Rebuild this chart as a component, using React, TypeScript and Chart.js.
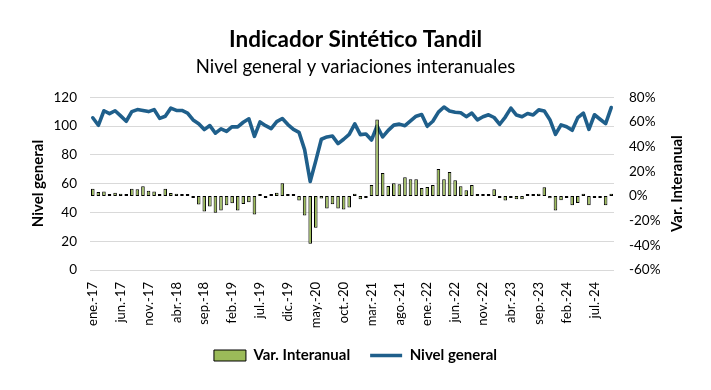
import React, { useEffect, useRef } from 'react';
import { Chart, registerables } from 'chart.js';

Chart.register(...registerables);

// ---- Data ----
const MONTHS = ['ene.', 'feb.', 'mar.', 'abr.', 'may.', 'jun.', 'jul.', 'ago.', 'sep.', 'oct.', 'nov.', 'dic.'];
const YEARS = ['17', '18', '19', '20', '21', '22', '23', '24'];
const LAST_MONTH_2024 = 9; // octubre
const categories: string[] = [];
YEARS.forEach((y, yi) => {
  MONTHS.forEach((m, mi) => {
    if (yi === YEARS.length - 1 && mi > LAST_MONTH_2024) return;
    categories.push(`${m}-${y}`);
  });
});

const nivelGeneral: number[] = [
  105.7, 100.5, 110.6, 108.6, 110.6, 107.0, 103.3, 110.0, 111.4, 110.8, 110.0, 111.4,
  105.3, 106.8, 112.4, 110.8, 110.8, 109.0, 104.2, 101.6, 97.5, 100.3, 95.0, 98.0,
  96.2, 99.5, 99.4, 102.6, 105.0, 92.8, 102.8, 100.2, 98.2, 103.0, 105.2, 101.0,
  97.6, 95.6, 83.6, 61.5, 75.8, 90.8, 92.4, 93.0, 87.8, 90.8, 94.2, 101.5,
  94.0, 94.4, 90.3, 100.0, 92.4, 97.0, 100.6, 101.3, 100.2, 103.5, 106.8, 108.0,
  99.8, 103.3, 109.6, 113.2, 110.4, 109.6, 109.2, 106.5, 109.0, 104.3, 106.4, 107.8,
  105.9, 101.2, 106.2, 112.4, 107.6, 106.4, 108.7, 107.7, 111.2, 110.4, 104.4, 94.2,
  100.8, 99.5, 97.0, 105.8, 109.0, 97.7, 107.8, 104.7, 101.7, 112.8,
];

const varInteranual: number[] = [
  5.9, 3.2, 3.5, 0.3, 2.6, 1.8, 0.3, 5.9, 5.4, 7.8, 4.3, 3.5,
  0.3, 5.9, 2.4, 1.8, 0.2, 0.2, -0.3, -6.9, -12.6, -8.5, -13.6, -11.7,
  -7.5, -6.0, -11.7, -6.6, -5.2, -15.0, 0.8, -0.4, 0.6, 2.6, 10.3, 1.5,
  0.7, -3.6, -15.8, -38.7, -25.7, -2.0, -10.2, -6.8, -10.2, -11.0, -9.4, 1.8,
  -2.6, -1.0, 8.8, 61.9, 18.5, 8.0, 10.3, 9.5, 15.2, 13.6, 13.6, 6.4,
  7.2, 8.8, 21.8, 13.6, 19.3, 12.8, 7.9, 4.6, 8.8, 0.2, 0.2, 0.2,
  5.4, -0.2, -3.6, -1.0, -2.7, -2.7, 0.2, 0.2, 1.8, 7.0, -1.8, -11.8,
  -3.5, -1.2, -7.5, -5.8, 1.8, -7.5, -1.0, -0.8, -7.5, 1.8,
];

const leftTicks = [0, 20, 40, 60, 80, 100, 120];
const rightTicks = [-60, -40, -20, 0, 20, 40, 60, 80];
const TICK_EVERY = 5;

const TITLE = 'Indicador Sintético Tandil';
const SUBTITLE = 'Nivel general y variaciones interanuales';
const LEFT_AXIS_TITLE = 'Nivel general';
const RIGHT_AXIS_TITLE = 'Var. Interanual';

const FONT = 'Lato, "Open Sans", sans-serif';

const axisTitlesPlugin = {
  id: 'axisTitles',
  afterDraw(chart: any) {
    const { ctx, chartArea } = chart;
    const cy = (chartArea.top + chartArea.bottom) / 2;
    ctx.save();
    ctx.font = `bold 15px ${FONT}`;
    ctx.fillStyle = '#000';
    ctx.textAlign = 'center';
    ctx.textBaseline = 'middle';
    const items: [number, string][] = [
      [38, LEFT_AXIS_TITLE],
      [677, RIGHT_AXIS_TITLE],
    ];
    items.forEach(([x, t]) => {
      ctx.save();
      ctx.translate(x, cy);
      ctx.rotate(-Math.PI / 2);
      ctx.fillText(t, 0, 0);
      ctx.restore();
    });
    ctx.restore();
  },
};

export default function App() {
  const canvasRef = useRef<HTMLCanvasElement | null>(null);

  useEffect(() => {
    if (!canvasRef.current) return;
    const chart = new Chart(canvasRef.current, {
      type: 'bar',
      data: {
        labels: categories,
        datasets: [
          {
            type: 'bar',
            label: 'Var. Interanual',
            data: varInteranual,
            yAxisID: 'y1',
            backgroundColor: '#9bbb59',
            borderColor: '#000000',
            borderWidth: 1,
            borderSkipped: false,
            minBarLength: 2,
            barPercentage: 0.64,
            categoryPercentage: 1,
            order: 0,
            pointStyle: 'rect',
          } as any,
          {
            type: 'line',
            label: 'Nivel general',
            data: nivelGeneral,
            yAxisID: 'y',
            borderColor: '#1f5f8b',
            backgroundColor: '#1f5f8b',
            borderWidth: 3.6,
            pointRadius: 0,
            tension: 0,
            borderJoinStyle: 'round',
            borderCapStyle: 'round',
            order: 1,
            pointStyle: 'line',
          } as any,
        ],
      },
      options: {
        responsive: true,
        maintainAspectRatio: false,
        animation: false,
        layout: { padding: { left: 0, right: 0, top: 0, bottom: 17 } },
        plugins: {
          tooltip: { enabled: false },
          title: {
            display: true,
            text: TITLE,
            color: '#000',
            font: { family: FONT, size: 22.5, weight: 'bold' },
            padding: { top: 26, bottom: 0 },
          },
          subtitle: {
            display: true,
            text: SUBTITLE,
            color: '#000',
            font: { family: FONT, size: 18.5, weight: 'normal' },
            padding: { top: 3, bottom: 19 },
          },
          legend: {
            position: 'bottom',
            labels: {
              usePointStyle: true,
              pointStyleWidth: 32,
              boxHeight: 11,
              color: '#000',
              font: { family: FONT, size: 15, weight: 'bold' },
              padding: 20,
            },
          },
        },
        scales: {
          x: {
            grid: { display: false },
            border: { display: false },
            ticks: {
              autoSkip: false,
              minRotation: 90,
              maxRotation: 90,
              color: '#000',
              padding: 4,
              font: { family: FONT, size: 13 },
              callback: (_v: any, i: number) => (i % TICK_EVERY === 0 ? categories[i] : ''),
            },
            afterFit: (s: any) => {
              s.height = 58;
            },
          },
          y: {
            position: 'left',
            min: leftTicks[0],
            max: leftTicks[leftTicks.length - 1],
            ticks: {
              stepSize: leftTicks[1] - leftTicks[0],
              color: '#000',
              padding: 13,
              font: { family: FONT, size: 13.5 },
            },
            grid: { color: '#d9d9d9', drawTicks: false, lineWidth: 1 },
            border: { display: false },
            afterFit: (s: any) => {
              s.width = 90;
            },
          },
          y1: {
            position: 'right',
            min: rightTicks[0],
            max: rightTicks[rightTicks.length - 1],
            ticks: {
              stepSize: rightTicks[1] - rightTicks[0],
              color: '#000',
              padding: 15,
              font: { family: FONT, size: 13.5 },
              callback: (v: any) => `${v}%`,
            },
            grid: { display: false, drawTicks: false },
            border: { display: false },
            afterFit: (s: any) => {
              s.width = 97;
            },
          },
        },
      },
      plugins: [axisTitlesPlugin],
    });
    return () => chart.destroy();
  }, []);

  return (
    <div style={{ position: 'absolute', left: 0, top: 0, width: 711, height: 390, background: '#fff' }}>
      <canvas ref={canvasRef} />
    </div>
  );
}
